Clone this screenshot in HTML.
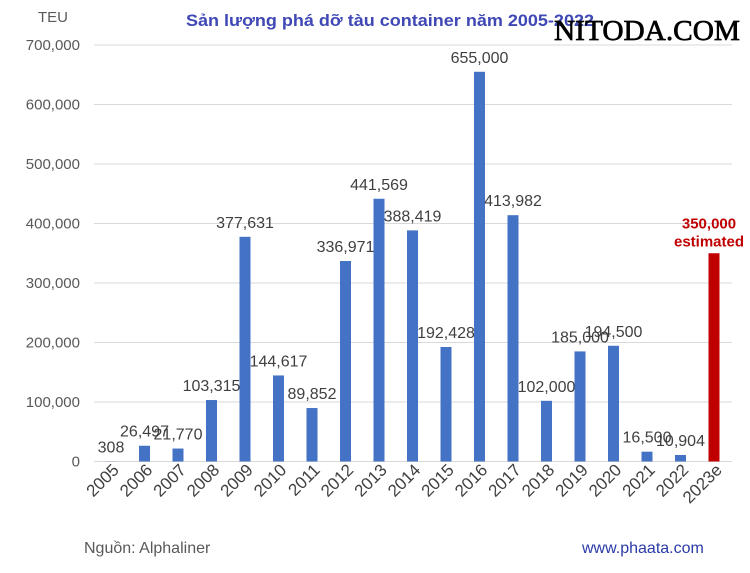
<!DOCTYPE html>
<html><head><meta charset="utf-8"><style>
body{margin:0;background:#fff;}
svg{display:block;font-family:"Liberation Sans",Arial,sans-serif;}
</style></head><body>
<svg width="750" height="573" id="c">
<text x="38" y="22" font-size="15" fill="#595959">TEU</text>
<text x="186" y="26" font-size="17" font-weight="bold" fill="#3f48b5" textLength="408" lengthAdjust="spacingAndGlyphs">Sản lượng phá dỡ tàu container năm 2005-2022</text>
<text x="554" y="40" font-size="28" fill="#000" stroke="#000" stroke-width="0.7" font-family="Liberation Serif,serif" textLength="186" lengthAdjust="spacingAndGlyphs">NITODA.COM</text>
<text x="84" y="553" font-size="16" fill="#595959">Nguồn: Alphaliner</text>
<text x="582" y="553" font-size="16" fill="#2a3aa8">www.phaata.com</text>
<g id="g"></g><g id="b"></g>
</svg>
<script>
const categories=["2005","2006","2007","2008","2009","2010","2011","2012","2013","2014","2015","2016","2017","2018","2019","2020","2021","2022","2023e"];
const values=[308,26497,21770,103315,377631,144617,89852,336971,441569,388419,192428,655000,413982,102000,185000,194500,16500,10904,350000];
const valueLabels=["308","26,497","21,770","103,315","377,631","144,617","89,852","336,971","441,569","388,419","192,428","655,000","413,982","102,000","185,000","194,500","16,500","10,904","350,000"];
const yTicks=[0,100000,200000,300000,400000,500000,600000,700000];
const NS="http://www.w3.org/2000/svg";
const y0=461.5,yMax=45,vMax=700000;
const y=v=>y0-(v/vMax)*(y0-yMax);
const x=i=>111+i*33.5;
const g=document.getElementById('g'),b=document.getElementById('b');
function mk(t,a,p){const e=document.createElementNS(NS,t);for(const k in a)e.setAttribute(k,a[k]);p.appendChild(e);return e;}
yTicks.forEach(v=>{
  const l=mk('line',{x1:94,x2:732,y1:y(v),y2:y(v),stroke:'#d9d9d9','stroke-width':1},g);
  
  
  const t=mk('text',{x:80,y:y(v)+5,'font-size':15,fill:'#595959','text-anchor':'end'},g);
  t.textContent=v.toLocaleString('en-US');
  
  
});
categories.forEach((c,i)=>{
  const last=i===categories.length-1;
  const r=mk('rect',{x:x(i)-5.5,y:y(values[i]),width:11,height:y0-y(values[i]),fill:last?'#c00000':'#4472c4'},b);
  
  
  const tx=mk('text',{transform:`translate(${x(i)+9},${471}) rotate(-45)`,'font-size':17,fill:'#404040','text-anchor':'end'},b);
  tx.textContent=c;
  
  
  if(last){
    const a=mk('text',{x:x(i)-5,y:y(values[i])-25,'font-size':15,'font-weight':'bold',fill:'#c00000','text-anchor':'middle'},b);
    a.textContent=valueLabels[i];
    
    
    const e=mk('text',{x:x(i)-5,y:y(values[i])-7,'font-size':15,'font-weight':'bold',fill:'#c00000','text-anchor':'middle'},b);
    e.textContent='estimated';
    
    
  }else{
    const a=mk('text',{x:x(i),y:y(values[i])-9,'font-size':16,fill:'#404040','text-anchor':'middle'},b);
    a.textContent=valueLabels[i];
    
    
  }
});
</script>
</body></html>
